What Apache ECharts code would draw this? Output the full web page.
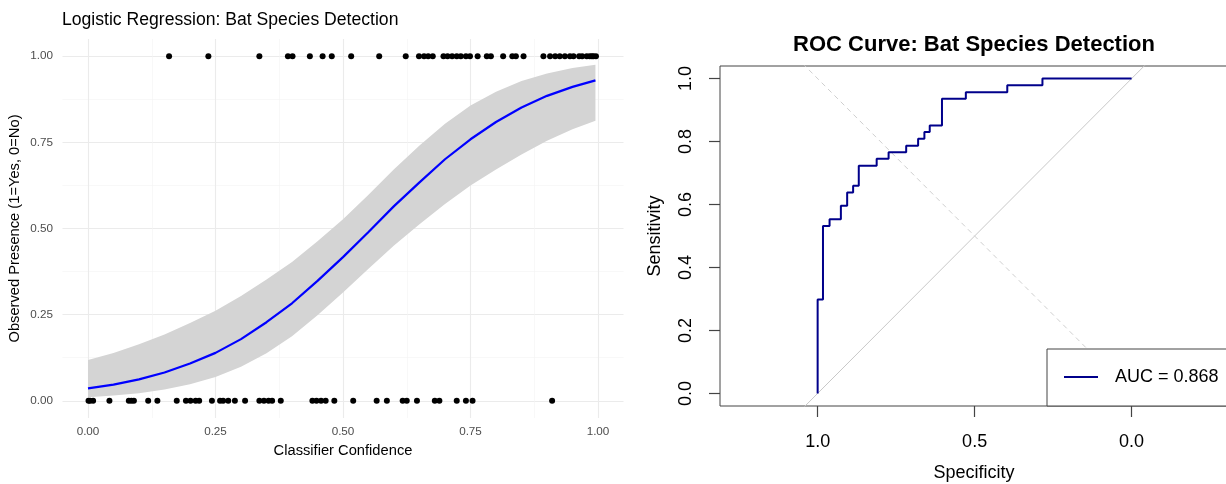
<!DOCTYPE html>
<html>
<head>
<meta charset="utf-8">
<title>Bat Species Detection</title>
<script src="https://cdn.jsdelivr.net/npm/echarts@6/dist/echarts.min.js"></script>
<style>
html, body { margin: 0; padding: 0; background: #fff; }
#chart { width: 1226px; height: 484px; }
</style>
</head>
<body>
<div id="chart"></div>
<script>
// --- logistic regression panel ---
var presentX = [0.159, 0.236, 0.336, 0.392, 0.401, 0.435, 0.460, 0.478, 0.516, 0.571, 0.623,
    0.649, 0.659, 0.667, 0.676, 0.697, 0.705, 0.714, 0.723, 0.731, 0.741, 0.749, 0.764, 0.782,
    0.790, 0.814, 0.832, 0.839, 0.854, 0.893, 0.906, 0.916, 0.925, 0.935, 0.945, 0.952, 0.963,
    0.969, 0.978, 0.984, 0.988, 0.991, 0.996]
var absentX = [0.001, 0.004, 0.010, 0.042, 0.080, 0.085, 0.090, 0.118, 0.136, 0.174, 0.192,
    0.201, 0.211, 0.218, 0.243, 0.259, 0.265, 0.275, 0.288, 0.308, 0.336, 0.345, 0.354, 0.361,
    0.378, 0.440, 0.448, 0.457, 0.466, 0.483, 0.520, 0.566, 0.586, 0.617, 0.625, 0.645, 0.680,
    0.689, 0.723, 0.741, 0.754, 0.910]
var fitX = [0, 0.05, 0.1, 0.15, 0.2, 0.25, 0.3, 0.35, 0.4, 0.45, 0.5, 0.55, 0.6, 0.65, 0.7,
    0.75, 0.8, 0.85, 0.9, 0.95, 0.995]
var fitY = [0.036, 0.047, 0.062, 0.082, 0.108, 0.139, 0.179, 0.228, 0.283, 0.348, 0.417, 0.490,
    0.565, 0.634, 0.701, 0.759, 0.809, 0.851, 0.885, 0.911, 0.930]
var fitLower = [0.010, 0.015, 0.022, 0.033, 0.048, 0.069, 0.099, 0.138, 0.187, 0.248, 0.314,
    0.383, 0.451, 0.512, 0.571, 0.625, 0.671, 0.715, 0.755, 0.788, 0.813]
var fitUpper = [0.118, 0.139, 0.164, 0.192, 0.226, 0.261, 0.304, 0.352, 0.403, 0.463, 0.527,
    0.598, 0.672, 0.741, 0.804, 0.857, 0.897, 0.928, 0.950, 0.966, 0.975]
var majorTicks = [0, 0.25, 0.5, 0.75, 1]
var minorTicks = [0.125, 0.375, 0.625, 0.875]

// --- ROC panel ---
var rocSpec = [1, 1, 0.983, 0.983, 0.962, 0.962, 0.926, 0.926, 0.906, 0.906, 0.887, 0.887,
    0.869, 0.869, 0.812, 0.812, 0.774, 0.774, 0.718, 0.718, 0.680, 0.680, 0.660, 0.660, 0.643,
    0.643, 0.604, 0.604, 0.528, 0.528, 0.396, 0.396, 0.284, 0.284, 0]
var rocSens = [0, 0.298, 0.298, 0.532, 0.532, 0.553, 0.553, 0.596, 0.596, 0.638, 0.638, 0.660,
    0.660, 0.723, 0.723, 0.745, 0.745, 0.766, 0.766, 0.787, 0.787, 0.809, 0.809, 0.830, 0.830,
    0.851, 0.851, 0.936, 0.936, 0.957, 0.957, 0.979, 0.979, 1, 1]
var sensTicks = [0, 0.2, 0.4, 0.6, 0.8, 1]
var specTicks = [1, 0.5, 0]
var aucLabel = 'AUC = 0.868'

var font = '"Liberation Sans", Arial, sans-serif'
var specMin = -0.307
var specMax = 1.311

var chart = echarts.init(document.getElementById('chart'))

function pairs (xs, ys) {
    return xs.map(function (x, i) { return [x, ys[i]] })
}

// chance line (sens = 1 - spec) and dashed line (sens = spec) across the axis range
var chanceLine = [specMax, specMin].map(function (s) { return [s, 1 - s] })
var equalLine = [specMax, specMin].map(function (s) { return [s, s] })

// ribbon: one polygon, upper edge then lower edge backwards
function renderBand (params, api) {
    if (params.dataIndex !== 0) return
    var pts = []
    fitX.forEach(function (x, i) { pts.push(api.coord([x, fitUpper[i]])) })
    for (var i = fitX.length - 1; i >= 0; i--) pts.push(api.coord([fitX[i], fitLower[i]]))
    return {
        type: 'polygon',
        shape: { points: pts },
        style: { fill: '#d4d4d4' }
    }
}

var option = {
    animation: false,
    textStyle: { fontFamily: font },
    title: [{
        text: 'Logistic Regression: Bat Species Detection',
        left: 62,
        top: 11,
        padding: 0,
        textStyle: { fontSize: 17.6, fontWeight: 'normal', color: '#000', fontFamily: font }
    }, {
        text: 'ROC Curve: Bat Species Detection',
        left: 974,
        textAlign: 'center',
        top: 34,
        padding: 0,
        textStyle: { fontSize: 22, fontWeight: 'bold', color: '#000', fontFamily: font }
    }],
    legend: {
        data: [aucLabel],
        left: 1047,
        top: 349,
        icon: 'rect',
        backgroundColor: '#fff',
        borderColor: '#444',
        borderWidth: 1,
        borderRadius: 0,
        padding: [18, 60, 19, 17],
        itemWidth: 34,
        itemHeight: 2,
        selectedMode: false,
        textStyle: { fontSize: 18, lineHeight: 20, color: '#000', padding: [0, 0, 0, 12], fontFamily: font },
        z: 10
    },
    grid: [{
        left: 62.5, top: 39, width: 561, height: 379, outerBoundsMode: 'none'
    }, {
        left: 720, top: 66, width: 508, height: 340, outerBoundsMode: 'none',
        show: true, borderColor: '#444', borderWidth: 1
    }],
    xAxis: [{
        // left: major grid + labels
        type: 'value', gridIndex: 0, min: -0.05, max: 1.05,
        name: 'Classifier Confidence', nameLocation: 'middle', nameGap: 25,
        nameTextStyle: { fontSize: 14.7, color: '#000', fontFamily: font },
        axisLine: { show: false, onZero: false },
        axisTick: { show: false, customValues: majorTicks },
        axisLabel: { customValues: majorTicks, margin: 8, fontSize: 11.7, color: '#4d4d4d',
            formatter: function (v) { return v.toFixed(2) } },
        splitLine: { show: true, lineStyle: { color: '#ebebeb', width: 1.1 } }
    }, {
        // left: minor grid only
        type: 'value', gridIndex: 0, min: -0.05, max: 1.05,
        axisLine: { show: false, onZero: false },
        axisTick: { show: false, customValues: minorTicks },
        axisLabel: { show: false },
        splitLine: { show: true, lineStyle: { color: '#f3f3f3', width: 0.6 } }
    }, {
        // right: specificity, reversed
        type: 'value', gridIndex: 1, min: specMin, max: specMax, inverse: true, position: 'bottom',
        name: 'Specificity', nameLocation: 'middle', nameGap: 58,
        nameTextStyle: { fontSize: 18, color: '#000', fontFamily: font },
        axisLine: { show: false, onZero: false },
        axisTick: { show: true, customValues: specTicks, length: 11, lineStyle: { color: '#444', width: 1.2 } },
        axisLabel: { customValues: specTicks, margin: 27, fontSize: 18, color: '#000',
            formatter: function (v) { return v.toFixed(1) } },
        splitLine: { show: false }
    }],
    yAxis: [{
        type: 'value', gridIndex: 0, min: -0.05, max: 1.05,
        name: 'Observed Presence (1=Yes, 0=No)', nameLocation: 'middle', nameGap: 40,
        nameTextStyle: { fontSize: 14.7, color: '#000', fontFamily: font },
        axisLine: { show: false, onZero: false },
        axisTick: { show: false, customValues: majorTicks },
        axisLabel: { customValues: majorTicks, margin: 9.5, fontSize: 11.7, color: '#4d4d4d',
            formatter: function (v) { return v.toFixed(2) } },
        splitLine: { show: true, lineStyle: { color: '#ebebeb', width: 1.1 } }
    }, {
        type: 'value', gridIndex: 0, min: -0.05, max: 1.05, position: 'left',
        axisLine: { show: false, onZero: false },
        axisTick: { show: false, customValues: minorTicks },
        axisLabel: { show: false },
        splitLine: { show: true, lineStyle: { color: '#f3f3f3', width: 0.6 } }
    }, {
        type: 'value', gridIndex: 1, min: -0.04, max: 1.04, position: 'left',
        name: 'Sensitivity', nameLocation: 'middle', nameGap: 56,
        nameTextStyle: { fontSize: 18, color: '#000', fontFamily: font },
        axisLine: { show: false, onZero: false },
        axisTick: { show: true, customValues: sensTicks, length: 11, lineStyle: { color: '#444', width: 1.2 } },
        axisLabel: { customValues: sensTicks, margin: 25, fontSize: 18, color: '#000', rotate: 90,
            formatter: function (v) { return v.toFixed(1) } },
        splitLine: { show: false }
    }],
    series: [{
        // confidence band
        type: 'custom', xAxisIndex: 0, yAxisIndex: 0,
        data: fitX.map(function (x, i) { return [x, fitLower[i], fitUpper[i]] }),
        encode: { x: 0, y: [1, 2] },
        renderItem: renderBand, silent: true, z: 1
    }, {
        type: 'line', xAxisIndex: 0, yAxisIndex: 0,
        data: pairs(fitX, fitY), symbol: 'none',
        lineStyle: { color: '#0000ff', width: 2.2 }, z: 3
    }, {
        type: 'scatter', xAxisIndex: 0, yAxisIndex: 0,
        data: presentX.map(function (x) { return [x, 1] }),
        symbolSize: 6, itemStyle: { color: '#000', opacity: 1 }, z: 4
    }, {
        type: 'scatter', xAxisIndex: 0, yAxisIndex: 0,
        data: absentX.map(function (x) { return [x, 0] }),
        symbolSize: 6, itemStyle: { color: '#000', opacity: 1 }, z: 4
    }, {
        type: 'line', xAxisIndex: 2, yAxisIndex: 2,
        data: chanceLine, symbol: 'none', clip: true,
        lineStyle: { color: '#c8c8c8', width: 1 }, z: 1
    }, {
        type: 'line', xAxisIndex: 2, yAxisIndex: 2,
        data: equalLine, symbol: 'none', clip: true,
        lineStyle: { color: '#cfcfcf', width: 1, type: [5, 4] }, z: 1
    }, {
        name: aucLabel,
        type: 'line', xAxisIndex: 2, yAxisIndex: 2,
        data: pairs(rocSpec, rocSens), symbol: 'none', clip: true,
        itemStyle: { color: '#00008b' },
        lineStyle: { color: '#00008b', width: 2 }, z: 3
    }]
}

chart.setOption(option)
window.onresize = chart.resize
</script>
</body>
</html>
